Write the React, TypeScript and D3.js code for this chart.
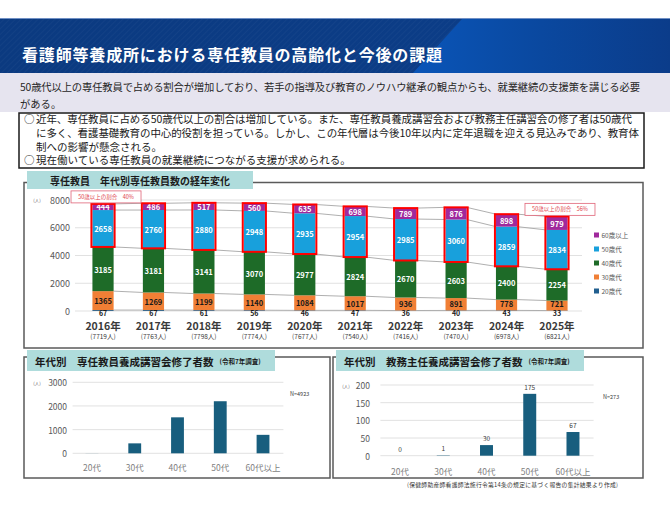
import React from "react";
import * as d3 from "d3";

// 専任教員数（年代別・各年）
const years = ["2016年", "2017年", "2018年", "2019年", "2020年", "2021年", "2022年", "2023年", "2024年", "2025年"];
const totals = ["(7719人)", "(7763人)", "(7798人)", "(7774人)", "(7677人)", "(7540人)", "(7416人)", "(7470人)", "(6978人)", "(6821人)"];
const age20s = [67, 67, 61, 56, 46, 47, 36, 40, 43, 33];
const age30s = [1365, 1269, 1199, 1140, 1084, 1017, 936, 891, 778, 721];
const age40s = [3185, 3181, 3141, 3070, 2977, 2824, 2670, 2603, 2400, 2254];
const age50s = [2658, 2760, 2880, 2948, 2935, 2954, 2985, 3060, 2859, 2834];
const age60s = [444, 486, 517, 560, 635, 698, 789, 876, 898, 979];
const seriesKeys = ["20歳代", "30歳代", "40歳代", "50歳代", "60歳以上"];
const seriesColors = ["#215f8f", "#f07f35", "#1e6b28", "#18a0dc", "#a0299c"];
const mainTicks = [0, 2000, 4000, 6000, 8000];
const shareLabels = ["50歳以上の割合　40%", "50歳以上の割合　56%"];

// 講習会修了者数（令和7年調査）
const ageGroups = ["20代", "30代", "40代", "50代", "60代以上"];
const trainingCounts = [3, 420, 1520, 2200, 780];
const trainingTicks = [0, 1000, 2000, 3000];
const headCounts = [0, 1, 30, 175, 67];
const headTicks = [0, 50, 100, 150, 200];

const FONT = "'Noto Sans CJK JP', 'Noto Sans', sans-serif";
const TAB = "#afdcdc";
const BAR = "#185e7e";

const rows = years.map((yr, i) => ({
  year: yr,
  "20歳代": age20s[i],
  "30歳代": age30s[i],
  "40歳代": age40s[i],
  "50歳代": age50s[i],
  "60歳以上": age60s[i],
}));

const StackedChart = () => {
  const x = d3.scaleBand().domain(years).range([77.8, 582.2]).paddingInner(0.58).paddingOuter(0.29);
  const y = d3.scaleLinear().domain([0, 8000]).range([311, 200]);
  const bw = x.bandwidth();
  const stacked = d3.stack<any>().keys(seriesKeys)(rows);
  const top40 = stacked[2];
  const topAll = stacked[4];
  const ends = [0, years.length - 1];

  // 20歳代は細いので値を軸線の上に置く
  const labelY = (k: number, d: [number, number]) =>
    k === 0 ? y(0) + 1.5 : k === 1 ? Math.min(y((d[0] + d[1]) / 2), y(0) - 8) : y((d[0] + d[1]) / 2);

  return (
    <g>
      {/* panel */}
      <rect x={24} y={182.5} width={619} height={165.5} fill="#fff" stroke="#5a5a5a" strokeWidth={1.5} />
      <rect x={27} y={171} width={226} height={18} fill={TAB} />
      <text x={140} y={180.5} textAnchor="middle" dominantBaseline="central" fontSize={10} fontWeight="bold" fill="#1a1a1a">
        専任教員　年代別専任教員数の経年変化
      </text>

      {/* grid + y axis */}
      {mainTicks.map((t) => (
        <g key={t}>
          <line x1={75} x2={582} y1={y(t)} y2={y(t)} stroke="#d9d9d9" strokeWidth={0.8} />
          <text x={70} y={y(t)} textAnchor="end" dominantBaseline="central" fontSize={9} fill="#595959">
            {t}
          </text>
        </g>
      ))}
      <text x={37} y={y(8000)} textAnchor="middle" dominantBaseline="central" fontSize={4.5} fill="#595959">(人)</text>

      {/* series lines between adjacent bars */}
      {stacked.map((layer) =>
        layer.slice(0, -1).map((d, i) => (
          <line
            key={layer.key + i}
            x1={(x(years[i]) as number) + bw}
            y1={y(d[1])}
            x2={x(years[i + 1]) as number}
            y2={y(layer[i + 1][1])}
            stroke="#a6a6a6"
            strokeWidth={0.9}
          />
        ))
      )}

      {/* stacked bars */}
      {stacked.map((layer, k) =>
        layer.map((d, i) => (
          <rect
            key={layer.key + i}
            x={x(years[i])}
            y={y(d[1])}
            width={bw}
            height={y(d[0]) - y(d[1])}
            fill={seriesColors[k]}
          />
        ))
      )}

      {/* segment values */}
      {stacked.map((layer, k) =>
        layer.map((d, i) => (
          <text
            key={layer.key + "t" + i}
            x={(x(years[i]) as number) + bw / 2}
            y={labelY(k, d)}
            textAnchor="middle"
            dominantBaseline="central"
            fontSize={k === 0 ? 7 : 7.5}
            fontWeight="bold"
            fill={k < 2 ? "#1a1a1a" : "#fff"}
          >
            {d[1] - d[0]}
          </text>
        ))
      )}

      {/* 50歳以上 outline */}
      {years.map((yr, i) => (
        <rect
          key={"box" + yr}
          x={(x(yr) as number) - 1}
          y={y(topAll[i][1])}
          width={bw + 2}
          height={y(top40[i][1]) - y(topAll[i][1])}
          fill="none"
          stroke="#ff0000"
          strokeWidth={2}
        />
      ))}

      {/* share callouts */}
      {ends.map((i, j) => {
        const cx = (x(years[i]) as number) + bw / 2 + 3;
        const by = y(topAll[i][1]) - 1;
        return (
          <g key={"call" + i}>
            <rect x={cx - 35} y={by - 12} width={70} height={12} fill="#fff" stroke="#e06478" strokeWidth={0.8} />
            <text x={cx} y={by - 6} textAnchor="middle" dominantBaseline="central" fontSize={5.5} fill="#e0404a">
              {shareLabels[j]}
            </text>
          </g>
        );
      })}

      {/* x labels */}
      {years.map((yr, i) => (
        <g key={"xl" + yr}>
          <text x={(x(yr) as number) + bw / 2} y={325} textAnchor="middle" dominantBaseline="central" fontSize={10.5} fontWeight="bold" fill="#3a3a3a">
            {yr}
          </text>
          <text x={(x(yr) as number) + bw / 2} y={336} textAnchor="middle" dominantBaseline="central" fontSize={6.5} fill="#3a3a3a">
            {totals[i]}
          </text>
        </g>
      ))}

      {/* legend */}
      {seriesKeys
        .map((key, k) => ({ key, color: seriesColors[k] }))
        .reverse()
        .map((s, j) => (
          <g key={s.key} transform={`translate(594,${235 + j * 14})`}>
            <rect x={0} y={-2.5} width={5} height={5} fill={s.color} />
            <text x={7.5} y={0} dominantBaseline="central" fontSize={6.5} fill="#595959">
              {s.key}
            </text>
          </g>
        ))}
    </g>
  );
};

type SmallProps = {
  left: number;
  title: string;
  xRange: [number, number];
  yRange: [number, number];
  max: number;
  ticks: number[];
  values: number[];
  tickX: number;
  catY: number;
  note: string;
  noteX: number;
  showValues: boolean;
};

const SmallChart = ({ left, title, xRange, yRange, max, ticks, values, tickX, catY, note, noteX, showValues }: SmallProps) => {
  const x = d3.scaleBand().domain(ageGroups).range(xRange).paddingInner(0.7).paddingOuter(0.35);
  const y = d3.scaleLinear().domain([0, max]).range(yRange);
  const bw = x.bandwidth();
  return (
    <g>
      <rect x={left} y={357} width={left < 100 ? 306 : 310} height={121} fill="#fff" stroke="#5a5a5a" strokeWidth={1.5} />
      <rect x={left + 3} y={350} width={248} height={21} fill={TAB} />
      <text x={left + 11} y={361} dominantBaseline="central" fontWeight="bold" fill="#1a1a1a">
        <tspan fontSize={10.5}>{title}</tspan>
        <tspan fontSize={6.5} dx={6}>(令和7年調査)</tspan>
      </text>
      {ticks.map((t) => (
        <g key={t}>
          <line x1={xRange[0] + 2} x2={xRange[1] - 1} y1={y(t)} y2={y(t)} stroke="#d9d9d9" strokeWidth={0.8} />
          <text x={tickX} y={y(t)} textAnchor="end" dominantBaseline="central" fontSize={8.5} fill="#595959">
            {t}
          </text>
        </g>
      ))}
      <text x={left + 13} y={y(max) + 1} textAnchor="middle" dominantBaseline="central" fontSize={4.5} fill="#595959">(人)</text>
      {values.map((v, i) => (
        <rect key={ageGroups[i]} x={x(ageGroups[i])} y={y(v)} width={bw} height={y(0) - y(v)} fill={BAR} />
      ))}
      {showValues &&
        values.map((v, i) => (
          <text key={"v" + i} x={(x(ageGroups[i]) as number) + bw / 2} y={y(v) - 7} textAnchor="middle" dominantBaseline="central" fontSize={6.5} fill="#404040">
            {v}
          </text>
        ))}
      {ageGroups.map((g) => (
        <text key={"c" + g} x={(x(g) as number) + bw / 2} y={catY} textAnchor="middle" dominantBaseline="central" fontSize={8.5} fill="#7f7f7f">
          {g}
        </text>
      ))}
      <text x={noteX} y={y(max) + 12} dominantBaseline="central" fontSize={5.5} fill="#404040">
        {note}
      </text>
    </g>
  );
};

export default function App() {
  return (
    <svg
      width={670}
      height={505}
      viewBox="0 0 670 505"
      style={{ position: "absolute", left: 0, top: 0, display: "block", fontFamily: FONT }}
    >
      <defs>
        <linearGradient id="bannerBase" x1="0" x2="1" y1="0" y2="0">
          <stop offset="0" stopColor="#0b3a80" />
          <stop offset="1" stopColor="#0c3e8a" />
        </linearGradient>
        <linearGradient id="bannerLight" x1="0" x2="1" y1="0" y2="0">
          <stop offset="0" stopColor="#0a55b8" />
          <stop offset="0.5" stopColor="#0a489f" />
          <stop offset="1" stopColor="#0b3c8a" />
        </linearGradient>
        <pattern id="stripes" width="4" height="4" patternUnits="userSpaceOnUse" patternTransform="rotate(45)">
          <line x1="0" y1="0" x2="0" y2="4" stroke="#ffffff" strokeWidth={1} opacity={0.06} />
        </pattern>
      </defs>

      <rect x={0} y={0} width={670} height={505} fill="#fff" />

      {/* title banner */}
      <rect x={0} y={18} width={670} height={55} fill="url(#bannerBase)" />
      <rect x={0} y={18} width={465} height={55} fill="url(#stripes)" />
      <polygon points="463,18 670,18 670,73 413,73" fill="url(#bannerLight)" />
      <line x1={0} x2={670} y1={18.5} y2={18.5} stroke="#6f8fc4" strokeWidth={1} />
      <text x={22} y={54} dominantBaseline="central" fontSize={16} fontWeight="bold" fill="#fff" textLength={420} lengthAdjust="spacing">
        看護師等養成所における専任教員の高齢化と今後の課題
      </text>

      {/* summary band */}
      <rect x={0} y={73} width={670} height={39} fill="#e6e4ef" />
      <text x={20} y={86} dominantBaseline="central" fontSize={10.3} fill="#262626" textLength={620} lengthAdjust="spacing">
        50歳代以上の専任教員で占める割合が増加しており、若手の指導及び教育のノウハウ継承の観点からも、就業継続の支援策を講じる必要
      </text>
      <text x={20} y={103} dominantBaseline="central" fontSize={10.3} fill="#262626">
        がある。
      </text>

      {/* bullet box */}
      <rect x={19} y={113} width={625} height={55} fill="#fff" stroke="#1a1a1a" strokeWidth={1.5} />
      <g fontSize={10.5} fill="#1a1a1a">
        <text x={24} y={118.5} dominantBaseline="central">○</text>
        <text x={36} y={118.5} dominantBaseline="central" textLength={596} lengthAdjust="spacing">
          近年、専任教員に占める50歳代以上の割合は増加している。また、専任教員養成講習会および教務主任講習会の修了者は50歳代
        </text>
        <text x={36} y={132.5} dominantBaseline="central" textLength={603} lengthAdjust="spacing">
          に多く、看護基礎教育の中心的役割を担っている。しかし、この年代層は今後10年以内に定年退職を迎える見込みであり、教育体
        </text>
        <text x={36} y={146} dominantBaseline="central">
          制への影響が懸念される。
        </text>
        <text x={24} y={159.5} dominantBaseline="central">○</text>
        <text x={36} y={159.5} dominantBaseline="central">
          現在働いている専任教員の就業継続につながる支援が求められる。
        </text>
      </g>

      <StackedChart />

      <SmallChart
        left={24}
        title="年代別　専任教員養成講習会修了者数"
        xRange={[70.6, 284.4]}
        yRange={[453.3, 382.3]}
        max={3000}
        ticks={trainingTicks}
        values={trainingCounts}
        tickX={67}
        catY={467}
        note="N=4923"
        noteX={290}
        showValues={false}
      />
      <SmallChart
        left={333}
        title="年代別　教務主任養成講習会修了者数"
        xRange={[378.4, 594.6]}
        yRange={[455.7, 385]}
        max={200}
        ticks={headTicks}
        values={headCounts}
        tickX={370}
        catY={471}
        note="N=273"
        noteX={603}
        showValues={true}
      />

      <text x={407} y={484} dominantBaseline="central" fontSize={5.8} fill="#333" textLength={211} lengthAdjust="spacing">
        (保健師助産師看護師法施行令第14条の規定に基づく報告の集計結果より作成)
      </text>
    </svg>
  );
}
